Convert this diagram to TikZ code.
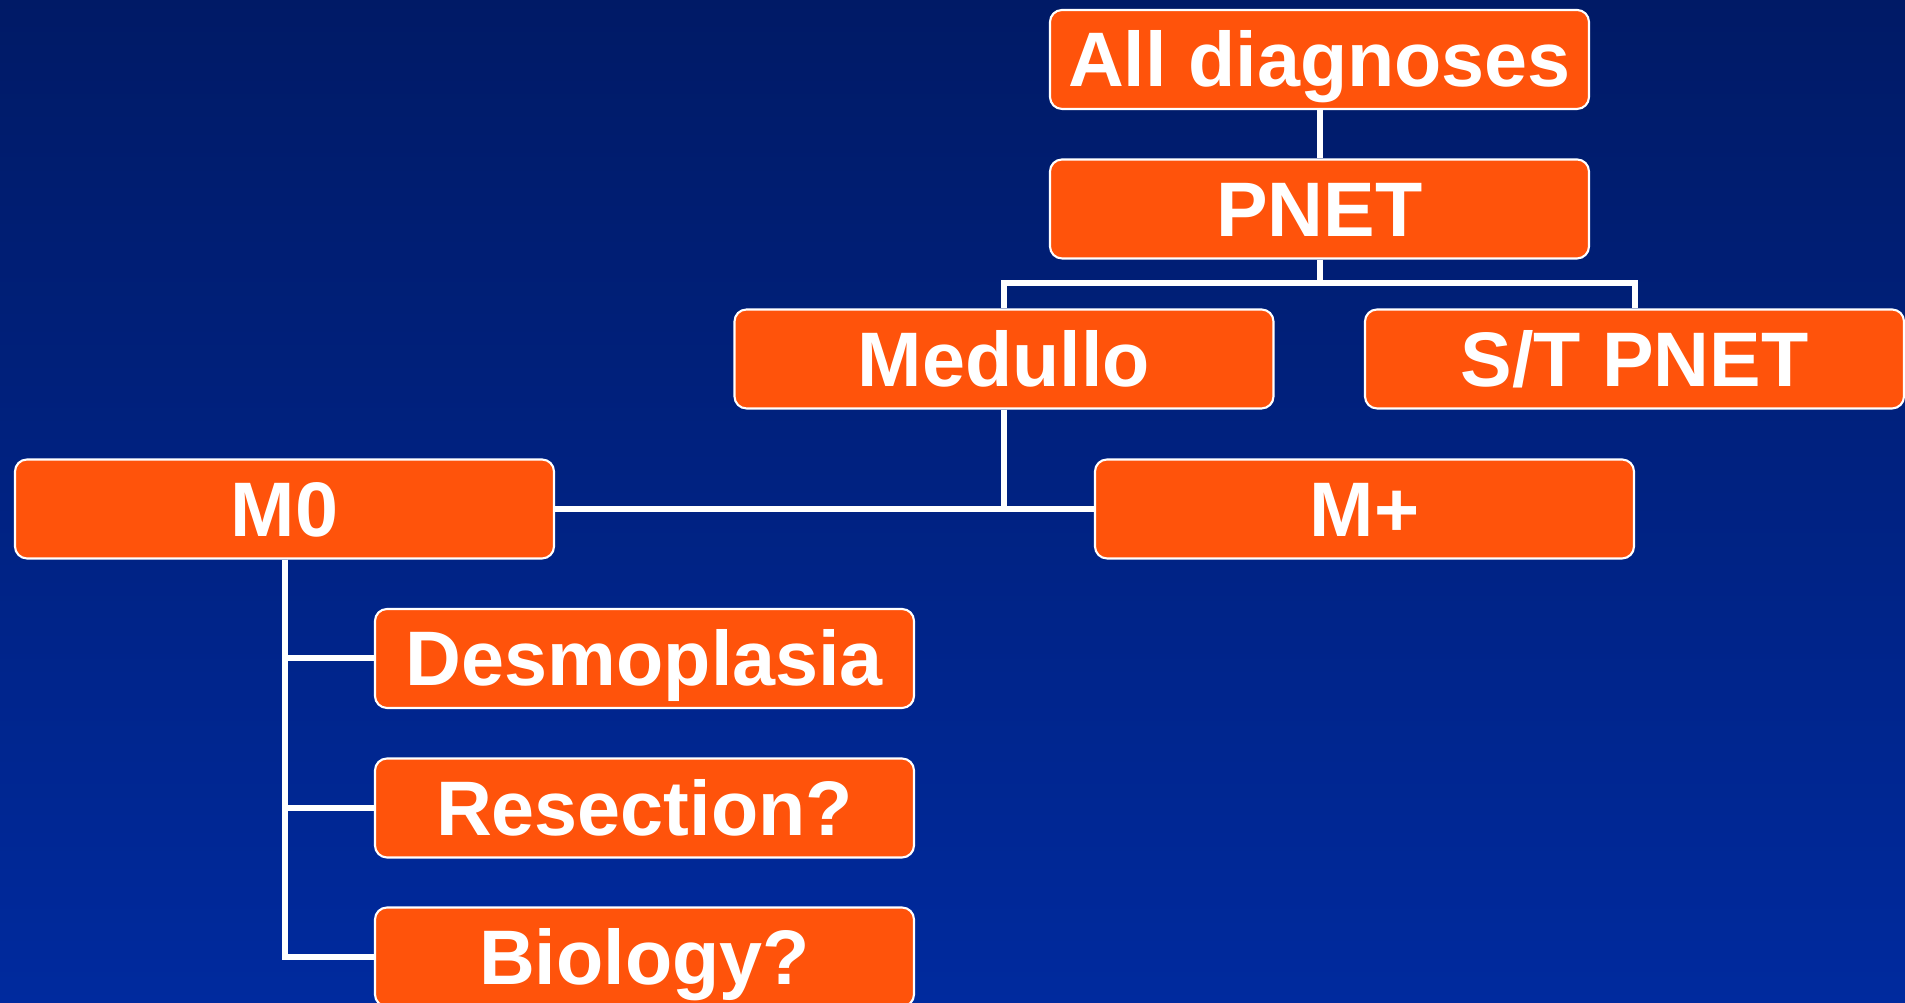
\documentclass[tikz,border=0pt]{standalone}
\usepackage{fontspec}
\setmainfont{Liberation Sans}
\usetikzlibrary{positioning}
\definecolor{boxorange}{HTML}{FF530B}
\definecolor{bgtop}{HTML}{001A66}
\definecolor{bgbottom}{HTML}{002A9E}

\begin{document}
\begin{tikzpicture}[
    box/.style={rectangle, rounded corners=0.12cm, fill=boxorange, draw=white,
        line width=0.6pt, minimum width=5.39cm, minimum height=0.99cm,
        text=white, font=\fontsize{22}{26}\selectfont\bfseries,
        text height=0.55cm, text depth=0cm, inner sep=0pt},
    link/.style={draw=white, line width=0.06cm}]
    \useasboundingbox (0,0) rectangle (19.05,10.03);
    \shade[top color=bgtop, bottom color=bgbottom] (0,0) rectangle (19.05,10.03);

    % boxes
    \node[box] (all) at (13.195,9.435) {All diagnoses};
    \node[box] (pnet) at (13.195,7.94) {PNET};
    \node[box] (medullo) at (10.04,6.44) {Medullo};
    \node[box] (stpnet) at (16.345,6.44) {S/T PNET};
    \node[box] (mzero) at (2.845,4.94) {M0};
    \node[box] (mplus) at (13.645,4.94) {M+};
    \node[box] (desmo) at (6.445,3.445) {Desmoplasia};
    \node[box] (resect) at (6.445,1.95) {Resection?};
    \node[box] (bio) at (6.445,0.46) {Biology?};

    % connectors
    \coordinate (split) at (13.195,7.2);
    \draw[link] (all) -- (pnet);
    \draw[link] (pnet.south) -- (split);
    \draw[link] (medullo.north) |- (split) -| (stpnet.north);
    \draw[link] (medullo.south) |- (mzero.east);
    \draw[link] (medullo.south) |- (mplus.west);
    \foreach \n in {desmo,resect,bio}
        \draw[link] (mzero.south) |- (\n.west);
\end{tikzpicture}
\end{document}
